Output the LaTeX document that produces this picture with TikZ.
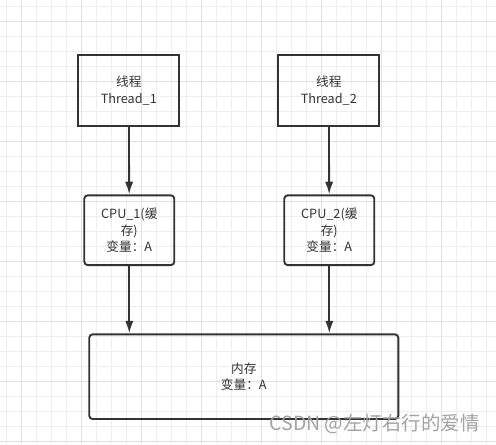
\documentclass[tikz,border=0pt]{standalone}
\usepackage{fontspec}
\usetikzlibrary{arrows.meta}
\setmainfont{Noto Sans CJK SC}
\definecolor{ink}{HTML}{333333}
\definecolor{gridminor}{HTML}{EEEEEE}
\definecolor{gridmajor}{HTML}{E0E0E0}
\definecolor{creditgray}{HTML}{A2A2A2}
\tikzset{
  threadbox/.style={draw=ink,line width=1.4pt,text=ink,align=center,
    minimum width=75.8pt,minimum height=53.3pt,inner sep=1pt},
  cachebox/.style={draw=ink,line width=1.4pt,text=ink,align=center,rounded corners=2.5pt,
    minimum width=67.5pt,minimum height=52.3pt,inner sep=1pt},
  membox/.style={cachebox,minimum width=231.8pt,minimum height=63.5pt},
  link/.style={ink,line width=1.4pt,-{Latex[length=9.5pt,width=6.2pt]}}
}
\begin{document}
\begin{tikzpicture}[x=0.75pt,y=-0.75pt,every node/.style={font=\fontsize{9.5pt}{12.4pt}\selectfont}]
  \useasboundingbox (0,0) rectangle (496,444);
  \foreach \g in {6.7,21.7,...,496} \draw [gridminor,line width=0.6pt] (\g,0) -- (\g,444);
  \foreach \g in {6.7,21.7,...,444} \draw [gridminor,line width=0.6pt] (0,\g) -- (496,\g);
  \foreach \g in {21.7,81.7,...,496} \draw [gridmajor,line width=0.6pt] (\g,0) -- (\g,444);
  \foreach \g in {21.7,81.7,...,444} \draw [gridmajor,line width=0.6pt] (0,\g) -- (496,\g);

  \node [threadbox] (thread1) at (128.8,90.5) {线程\\Thread\_1};
  \node [threadbox] (thread2) at (328.8,90.5) {线程\\Thread\_2};
  \node [cachebox] (cpu1) at (129.3,230.2) {CPU\_1(缓\\存)\\变量：A};
  \node [cachebox] (cpu2) at (329.3,230.2) {CPU\_2(缓\\存)\\变量：A};
  \node [membox] (mem) at (243.8,376.7) {内存\\变量：A};

  \draw [link] (thread1) -- (cpu1);
  \draw [link] (thread2) -- (cpu2);
  \draw [link] (cpu1) -- (cpu1 |- mem.north);
  \draw [link] (cpu2) -- (cpu2 |- mem.north);

  \node [creditgray,font=\fontsize{14.6pt}{18pt}\selectfont] (credit) at (374.5,424) {CSDN @左灯右行的爱情};
\end{tikzpicture}
\end{document}
